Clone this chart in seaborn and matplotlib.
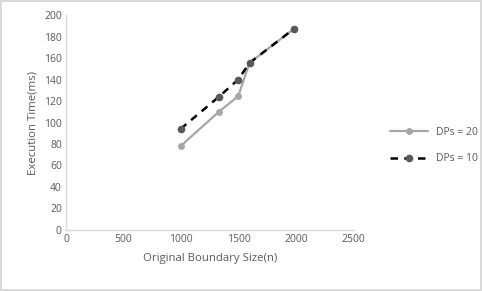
import pandas as pd
import matplotlib.pyplot as plt
import seaborn as sns

# Dados
tamanho_a = [995, 1328, 1496, 1594, 1977]
tempo_a = [78, 110, 124.5, 155.5, 187]
tamanho_b = [995, 1328, 1496, 1594, 1977]
tempo_b = [94, 124, 140, 155.5, 187]
rotulos = ["DPs = 20", "DPs = 10"]

sns.set_style("white")
plt.rcParams['font.family'] = ['Open Sans', 'DejaVu Sans']

cinza_texto = "#595959"

fig = plt.figure(figsize=(4.82, 2.91), dpi=100)
fig.patch.set_edgecolor("#d9d9d9")
fig.patch.set_linewidth(1.5)
ax = fig.add_axes([0.137, 0.21, 0.597, 0.738])

df_a = pd.DataFrame({"x": tamanho_a, "y": tempo_a})
df_b = pd.DataFrame({"x": tamanho_b, "y": tempo_b})

sns.lineplot(data=df_a, x="x", y="y", ax=ax, color="#a6a6a6", linewidth=1.6,
             marker="o", markersize=5, markeredgewidth=0, label=rotulos[0])
sns.lineplot(data=df_b, x="x", y="y", ax=ax, color="black", linewidth=1.8,
             marker="o", markersize=5.5, markerfacecolor="#595959",
             markeredgewidth=0, dashes=(3, 2.5), label=rotulos[1])

ax.set_xlim(0, 2500)
ax.set_ylim(0, 200)
ax.set_xticks(range(0, 2501, 500))
ax.set_yticks(range(0, 201, 20))
ax.tick_params(labelsize=7.5, colors=cinza_texto, length=0, pad=3)
for lado in ["top", "right"]:
    ax.spines[lado].set_visible(False)
for lado in ["left", "bottom"]:
    ax.spines[lado].set_color("#d9d9d9")
    ax.spines[lado].set_linewidth(1)

ax.set_xlabel("Original Boundary Size(n)", fontsize=8.2, color=cinza_texto, labelpad=6)
ax.set_ylabel("Execution Time(ms)", fontsize=8.2, color=cinza_texto, labelpad=4)

leg = ax.legend(loc="center left", bbox_to_anchor=(0.79, 0.5), bbox_transform=fig.transFigure,
                frameon=False, fontsize=7.5, labelspacing=1.5, handlelength=3.6)
for t in leg.get_texts():
    t.set_color(cinza_texto)

fig.savefig("out.png", dpi=100)
